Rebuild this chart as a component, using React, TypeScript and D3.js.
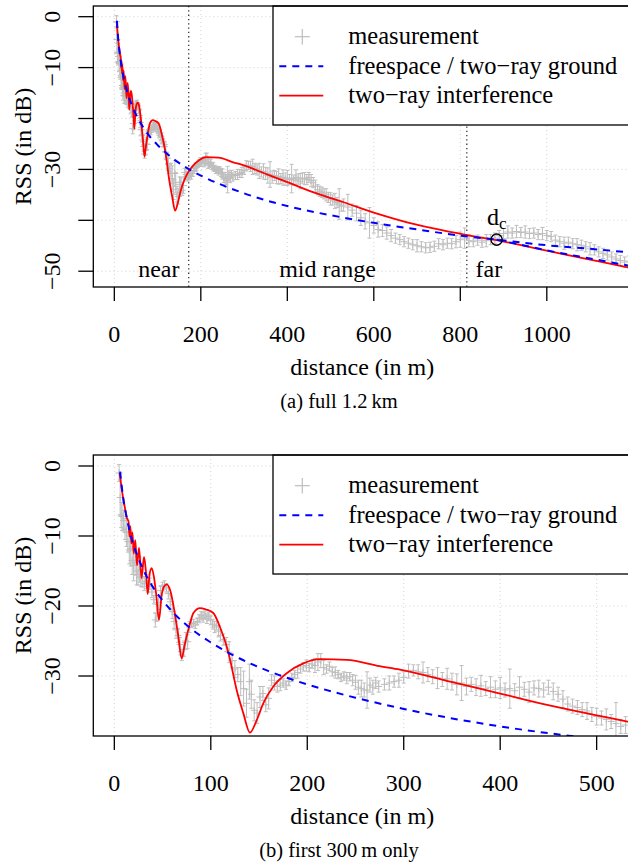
import React from 'react';
import * as d3 from 'd3';

// [distance (m), mean RSS (dB), sd (dB)]
const measurement: [number, number, number][] = [
  [5, -1.0, 1.2], [6, -4.5, 2.5], [7, -7.0, 1.8], [8, -7.2, 2.0], [9.5, -7.8, 1.5],
  [11, -9.0, 1.5], [12.5, -9.5, 2.0], [14, -10.8, 1.5], [15.5, -12.0, 2.0], [17, -11.8, 2.5],
  [18.5, -13.5, 2.0], [20, -14.2, 2.2], [21.5, -13.8, 1.8], [23, -15.0, 2.0], [24.5, -15.5, 1.5],
  [26, -14.8, 1.8], [27.5, -16.0, 1.2], [29, -15.8, 1.5], [31, -16.8, 1.0], [33, -16.5, 1.0],
  [35, -17.2, 0.8], [37, -16.8, 0.8], [39, -18.0, 0.8], [41, -19.1, 0.6], [42.5, -22.0, 1.0],
  [44, -21.0, 1.2], [46, -19.5, 1.0], [48, -17.8, 0.7], [50, -17.2, 0.6], [52, -17.0, 0.6],
  [54, -17.4, 0.6], [56, -18.2, 0.8], [58, -19.4, 1.0], [60, -20.8, 1.0], [62, -22.2, 1.0],
  [64, -23.4, 1.2], [66, -24.2, 1.0], [68, -25.5, 1.0], [70, -27.0, 0.8], [72, -26.2, 1.0],
  [74, -25.0, 1.2], [76, -25.1, 1.0], [78, -23.0, 0.8], [80, -22.5, 0.6], [82, -22.4, 0.5],
  [84, -22.7, 0.5], [86, -22.2, 0.5], [88, -21.8, 0.6], [90, -21.4, 0.6], [92, -21.6, 0.7],
  [94, -21.3, 0.6], [96, -21.8, 0.7], [98, -21.5, 0.6], [100, -22.0, 0.7], [102, -22.6, 0.7],
  [104, -23.0, 0.8], [106, -22.8, 0.6], [108, -23.6, 0.8], [110, -24.2, 0.8], [113, -24.8, 0.8],
  [116, -25.5, 1.0], [119, -26.6, 1.5], [122, -27.8, 1.0], [125, -29.0, 1.2], [128, -29.8, 1.0],
  [131, -30.8, 2.0], [134, -31.8, 2.5], [137, -33.9, 2.0], [140, -30.8, 2.5], [142, -32.6, 2.0],
  [145, -34.9, 1.5], [148, -35.3, 1.5], [151, -33.0, 1.5], [154, -32.5, 1.0], [157, -34.1, 1.0],
  [160, -33.2, 1.5], [163, -30.6, 0.8], [166, -31.0, 1.0], [169, -31.5, 0.8], [172, -31.3, 0.8],
  [175, -31.0, 0.6], [178, -31.3, 0.6], [181, -30.8, 0.6], [184, -30.2, 0.6], [187, -29.8, 0.6],
  [190, -29.5, 0.8], [193, -29.0, 0.6], [196, -28.7, 0.6], [199, -28.5, 0.8], [202, -28.8, 0.6],
  [205, -28.3, 0.6], [208, -28.5, 1.0], [211, -28.0, 1.2], [214, -27.8, 1.0], [217, -28.8, 1.0],
  [220, -29.0, 0.6], [223, -28.6, 0.6], [226, -29.4, 0.6], [229, -29.5, 0.8], [232, -29.8, 0.6],
  [235, -30.2, 0.6], [238, -30.0, 0.6], [241, -30.3, 0.8], [244, -30.1, 0.6], [247, -30.6, 0.8],
  [250, -30.9, 1.0], [253, -31.6, 1.0], [256, -31.8, 1.2], [259, -32.0, 1.0], [262, -32.0, 2.6],
  [265, -31.3, 1.0], [268, -31.6, 1.0], [271, -31.0, 0.8], [274, -31.5, 0.8], [280, -31.2, 0.8],
  [285, -31.0, 1.0], [290, -30.8, 0.8], [295, -30.6, 1.0], [300, -30.2, 0.8], [305, -29.3, 1.0],
  [310, -29.2, 0.8], [315, -29.4, 1.0], [320, -29.5, 1.5], [325, -29.8, 1.0], [330, -30.1, 1.0],
  [335, -30.3, 1.5], [340, -30.5, 1.0], [345, -30.4, 1.5], [350, -30.8, 1.2], [355, -31.2, 1.5],
  [360, -31.0, 2.5], [365, -31.5, 1.2], [370, -31.2, 1.0], [375, -31.6, 1.2], [380, -31.4, 1.5],
  [385, -31.8, 1.0], [390, -31.6, 1.5], [395, -31.9, 1.2], [400, -31.7, 1.5], [405, -32.0, 1.0],
  [410, -31.8, 2.8], [415, -32.1, 1.0], [420, -31.6, 1.5], [425, -31.9, 1.0], [430, -32.3, 1.5],
  [435, -31.7, 1.0], [440, -31.8, 1.2], [445, -32.0, 1.0], [450, -31.6, 1.0], [455, -32.2, 1.2],
  [460, -32.6, 1.0], [465, -33.3, 1.2], [470, -34.0, 1.0], [475, -34.3, 1.0], [480, -34.5, 1.0],
  [485, -34.8, 1.0], [490, -35.0, 1.2], [495, -35.5, 1.0], [500, -35.8, 1.2], [505, -36.0, 1.0],
  [510, -36.2, 1.5], [515, -36.5, 1.0], [520, -36.8, 3.0], [525, -37.2, 1.0], [530, -37.0, 1.2],
  [540, -37.4, 2.5], [550, -38.0, 1.2], [560, -38.6, 1.5], [570, -39.5, 1.5], [580, -40.2, 1.5],
  [590, -40.5, 3.0], [600, -41.0, 1.5], [610, -41.8, 1.5], [620, -42.0, 1.2], [630, -42.5, 1.2],
  [640, -43.0, 1.2], [650, -43.5, 1.0], [660, -43.8, 1.0], [670, -44.2, 1.0], [680, -44.5, 1.0],
  [690, -44.8, 1.0], [700, -45.0, 1.2], [710, -45.2, 1.0], [720, -45.4, 1.0], [730, -45.3, 1.0],
  [740, -45.1, 1.0], [750, -44.6, 1.0], [760, -44.8, 1.0], [770, -44.5, 1.0], [780, -44.6, 1.0],
  [790, -44.2, 1.2], [800, -43.8, 1.5], [810, -43.5, 2.0], [820, -44.0, 1.2], [830, -44.2, 1.0],
  [840, -43.9, 1.0], [850, -44.3, 1.0], [860, -44.0, 1.2], [870, -43.8, 1.0], [880, -43.5, 1.0],
  [890, -43.0, 1.0], [900, -42.6, 1.0], [910, -42.3, 1.2], [920, -42.5, 1.0], [930, -42.2, 1.2],
  [940, -42.4, 1.0], [950, -42.3, 1.2], [960, -42.6, 1.0], [970, -42.5, 1.0], [980, -42.8, 1.0],
  [990, -42.6, 1.2], [1000, -43.0, 1.0], [1010, -43.2, 1.0], [1020, -43.9, 1.0], [1030, -44.2, 1.0],
  [1040, -44.5, 1.2], [1050, -44.3, 1.0], [1060, -44.6, 1.0], [1070, -44.8, 1.2], [1080, -44.9, 1.0],
  [1090, -45.2, 1.0], [1100, -45.6, 1.2], [1110, -45.8, 1.0], [1120, -46.2, 1.0], [1130, -46.5, 1.0],
  [1140, -46.8, 1.0], [1150, -47.2, 1.0], [1160, -47.6, 1.0], [1170, -47.9, 1.0], [1180, -48.2, 1.0],
  [1190, -48.0, 1.0],
];

// freespace model line (distance, dB)
const freespace: [number, number][] = [
  [6, -0.8], [8, -3.3], [10, -5.3], [12, -6.8], [15, -8.8], [20, -11.3], [25, -13.2], [30, -14.8],
  [40, -17.3], [50, -19.2], [60, -20.8], [80, -23.3], [100, -25.2], [130, -27.5], [160, -29.3],
  [200, -31.2], [250, -33.1], [300, -34.7], [400, -37.2], [500, -39.0], [600, -40.5], [700, -41.8],
  [800, -43.0], [884, -43.8], [1000, -44.9], [1100, -45.6], [1190, -46.3],
];

// two-ray ground line beyond the critical distance
const twoRayGround: [number, number][] = [
  [884, -43.8], [950, -45.0], [1000, -45.9], [1100, -47.5], [1190, -48.9],
];

// two-ray interference line
const twoRayInterference: [number, number][] = [
  [5.5, -1.0], [7, -2.6], [9, -4.5], [11, -6.0], [13, -7.4], [14.8, -8.0], [15.7, -10.1], [16.6, -8.6],
  [17.6, -11.1], [18.8, -9.5], [20.1, -12.5], [21.7, -10.6], [23.5, -14.2], [25.6, -11.7],
  [28.2, -16.0], [30.8, -13.0], [33, -15.5], [34.6, -18.3], [36.5, -15.5], [38.7, -14.6],
  [41, -15.8], [43.5, -18.5], [46.3, -22.0], [49, -18.5], [51.5, -17.2], [54.3, -16.9],
  [58, -17.8], [62, -20.5], [66, -24.0], [69.8, -27.5], [73, -25.5], [78.4, -22.5], [82, -21.0],
  [88.8, -20.3], [95, -20.5], [102.6, -21.0], [109.5, -23.0], [116.5, -25.8], [120, -27.7],
  [126.8, -32.0], [133.7, -35.3], [140.6, -38.1], [147.6, -36.3], [154.4, -33.9], [164.8, -31.5],
  [178.7, -29.6], [195.9, -28.2], [213, -27.6], [241, -27.7], [275, -28.6], [296, -29.1],
  [348, -30.8], [400, -32.5], [451, -34.2], [503, -35.7], [532, -36.5], [600, -38.5],
  [660, -40.0], [738, -41.6], [815, -42.9], [884, -43.9], [969, -45.4], [1046, -46.8],
  [1123, -48.1], [1190, -49.3],
];

const regionBounds = [172, 815];
const regionLabels = ['near', 'mid range', 'far'];
const regionLabelDist = [103, 493, 866];
const criticalDist = 884;
const criticalRss = -43.8;

const xTicksA = [0, 200, 400, 600, 800, 1000];
const yTicksA = [0, -10, -20, -30, -40, -50];
const yLabelsA = ['0', '\u221210', '', '\u221230', '', '\u221250'];
const xTicksB = [0, 100, 200, 300, 400, 500];
const yTicksB = [0, -10, -20, -30];
const yLabelsB = ['0', '\u221210', '\u221220', '\u221230'];
const legendLabels = ['measurement', 'freespace / two\u2212ray ground', 'two\u2212ray interference'];

const FONT = "'Liberation Serif', 'Times New Roman', serif";
const GRAY = '#bebebe';
const BLUE = '#0000ff';
const RED = '#ff0000';

type PanelProps = {
  id: string;
  top: number;
  xDomain: [number, number];
  yDomain: [number, number];
  xTicks: number[];
  yTicks: number[];
  yLabels: string[];
  caption: string;
  full: boolean;
};

function Panel({ id, top, xDomain, yDomain, xTicks, yTicks, yLabels, caption, full }: PanelProps) {
  const left = 93.3;
  const right = 631;
  const bottom = top + 281;
  const x = d3.scaleLinear().domain(xDomain).range([left, right]);
  const y = d3.scaleLinear().domain(yDomain).range([bottom, top]);
  const line = d3
    .line<[number, number]>()
    .x((d) => x(d[0]))
    .y((d) => y(d[1]))
    .curve(d3.curveMonotoneX);
  const clipId = `clip-${id}`;
  const midY = (top + bottom) / 2;
  const lgTop = top;
  const lgX = 273;

  return (
    <g>
      <defs>
        <clipPath id={clipId}>
          <rect x={left} y={top} width={right - left} height={bottom - top} />
        </clipPath>
      </defs>
      <g clipPath={`url(#${clipId})`}>
        {xTicks.map((t) => (
          <line key={'gx' + t} x1={x(t)} x2={x(t)} y1={top} y2={bottom} stroke="#d3d3d3" strokeDasharray="1,3" />
        ))}
        {yTicks.map((t) => (
          <line key={'gy' + t} x1={left} x2={right} y1={y(t)} y2={y(t)} stroke="#d3d3d3" strokeDasharray="1,3" />
        ))}
        {full &&
          regionBounds.map((b) => (
            <line key={'rb' + b} x1={x(b)} x2={x(b)} y1={top} y2={bottom} stroke="#333" strokeWidth={1.3} strokeDasharray="1.3,3" />
          ))}
        <g stroke={GRAY} strokeWidth={1} fill="none">
          {measurement.map(([d, v, e], i) => {
            const cx = x(d);
            const cy = y(v);
            const y1 = y(v + e);
            const y2 = y(v - e);
            return (
              <g key={i}>
                <line x1={cx} x2={cx} y1={y1} y2={y2} />
                <line x1={cx - 2} x2={cx + 2} y1={y1} y2={y1} />
                <line x1={cx - 2} x2={cx + 2} y1={y2} y2={y2} />
                <line x1={cx - 3.5} x2={cx + 3.5} y1={cy} y2={cy} />
                <line x1={cx} x2={cx} y1={cy - 3.5} y2={cy + 3.5} />
              </g>
            );
          })}
        </g>
        <path d={line(twoRayInterference) || ''} fill="none" stroke={RED} strokeWidth={1.8} />
        <path d={line(freespace) || ''} fill="none" stroke={BLUE} strokeWidth={2} strokeDasharray="7,6" />
        {full && <path d={line(twoRayGround) || ''} fill="none" stroke={BLUE} strokeWidth={2} strokeDasharray="7,6" />}
      </g>

      {/* legend */}
      <rect x={lgX} y={lgTop} width={400} height={119} fill="#fff" stroke="#000" strokeWidth={1.3} />
      <g stroke={GRAY} strokeWidth={1.2}>
        <line x1={302.3 - 7.5} x2={302.3 + 7.5} y1={lgTop + 30.7} y2={lgTop + 30.7} />
        <line x1={302.3} x2={302.3} y1={lgTop + 23} y2={lgTop + 38.5} />
      </g>
      <line x1={279.3} x2={323.3} y1={lgTop + 60.3} y2={lgTop + 60.3} stroke={BLUE} strokeWidth={2} strokeDasharray="7,6" />
      <line x1={279.3} x2={323.3} y1={lgTop + 89.7} y2={lgTop + 89.7} stroke={RED} strokeWidth={1.8} />
      {legendLabels.map((l, i) => (
        <text key={l} x={348.3} y={lgTop + 38.3 + i * 29.2} fontFamily={FONT} fontSize={24.5}>
          {l}
        </text>
      ))}

      {/* box */}
      <rect x={left} y={top} width={right - left} height={bottom - top} fill="none" stroke="#000" strokeWidth={1.3} />

      {full && (
        <g>
          <circle cx={x(criticalDist)} cy={y(criticalRss)} r={5.6} fill="none" stroke="#000" strokeWidth={1.4} />
          <text x={x(criticalDist) - 9.7} y={y(criticalRss) - 14.5} fontFamily={FONT} fontSize={24}>
            d
            <tspan fontSize={17} dy={3.5}>c</tspan>
          </text>
          {regionLabels.map((l, i) => (
            <text key={l} x={x(regionLabelDist[i])} y={y(-51.1)} fontFamily={FONT} fontSize={24} textAnchor="middle">
              {l}
            </text>
          ))}
        </g>
      )}

      {/* x axis */}
      {xTicks.map((t) => (
        <g key={'xt' + t}>
          <line x1={x(t)} x2={x(t)} y1={bottom} y2={bottom + 14} stroke="#000" strokeWidth={1.3} />
          <text x={x(t)} y={bottom + 54.7} fontFamily={FONT} fontSize={24} textAnchor="middle">
            {t}
          </text>
        </g>
      ))}
      <text x={(left + right) / 2} y={bottom + 87.5} fontFamily={FONT} fontSize={24} textAnchor="middle">
        distance (in m)
      </text>

      {/* y axis */}
      {yTicks.map((t, i) => (
        <g key={'yt' + t}>
          <line x1={left - 15} x2={left} y1={y(t)} y2={y(t)} stroke="#000" strokeWidth={1.3} />
          {yLabels[i] && (
            <text
              x={60}
              y={y(t)}
              fontFamily={FONT}
              fontSize={24}
              textAnchor="middle"
              transform={`rotate(-90, 60, ${y(t)})`}
            >
              {yLabels[i]}
            </text>
          )}
        </g>
      ))}
      <text x={30.5} y={midY} fontFamily={FONT} fontSize={24} textAnchor="middle" transform={`rotate(-90, 30.5, ${midY})`}>
        RSS (in dB)
      </text>

      <text x={339} y={bottom + 120.5} fontFamily={FONT} fontSize={20.5} textAnchor="middle">
        {caption}
      </text>
    </g>
  );
}

export default function App() {
  return (
    <svg
      width={628}
      height={862}
      viewBox="0 0 628 862"
      style={{ position: 'absolute', left: 0, top: 0, background: '#fff' }}
    >
      <rect x={0} y={0} width={628} height={862} fill="#fff" />
      <Panel
        id="a"
        top={6}
        xDomain={[-48.6, 1194.7]}
        yDomain={[-53.1, 2.1]}
        xTicks={xTicksA}
        yTicks={yTicksA}
        yLabels={yLabelsA}
        caption={'(a) full 1.2\u2009km'}
        full={true}
      />
      <Panel
        id="b"
        top={455}
        xDomain={[-21.8, 535.6]}
        yDomain={[-38.57, 1.57]}
        xTicks={xTicksB}
        yTicks={yTicksB}
        yLabels={yLabelsB}
        caption={'(b) first 300\u2009m only'}
        full={false}
      />
    </svg>
  );
}
